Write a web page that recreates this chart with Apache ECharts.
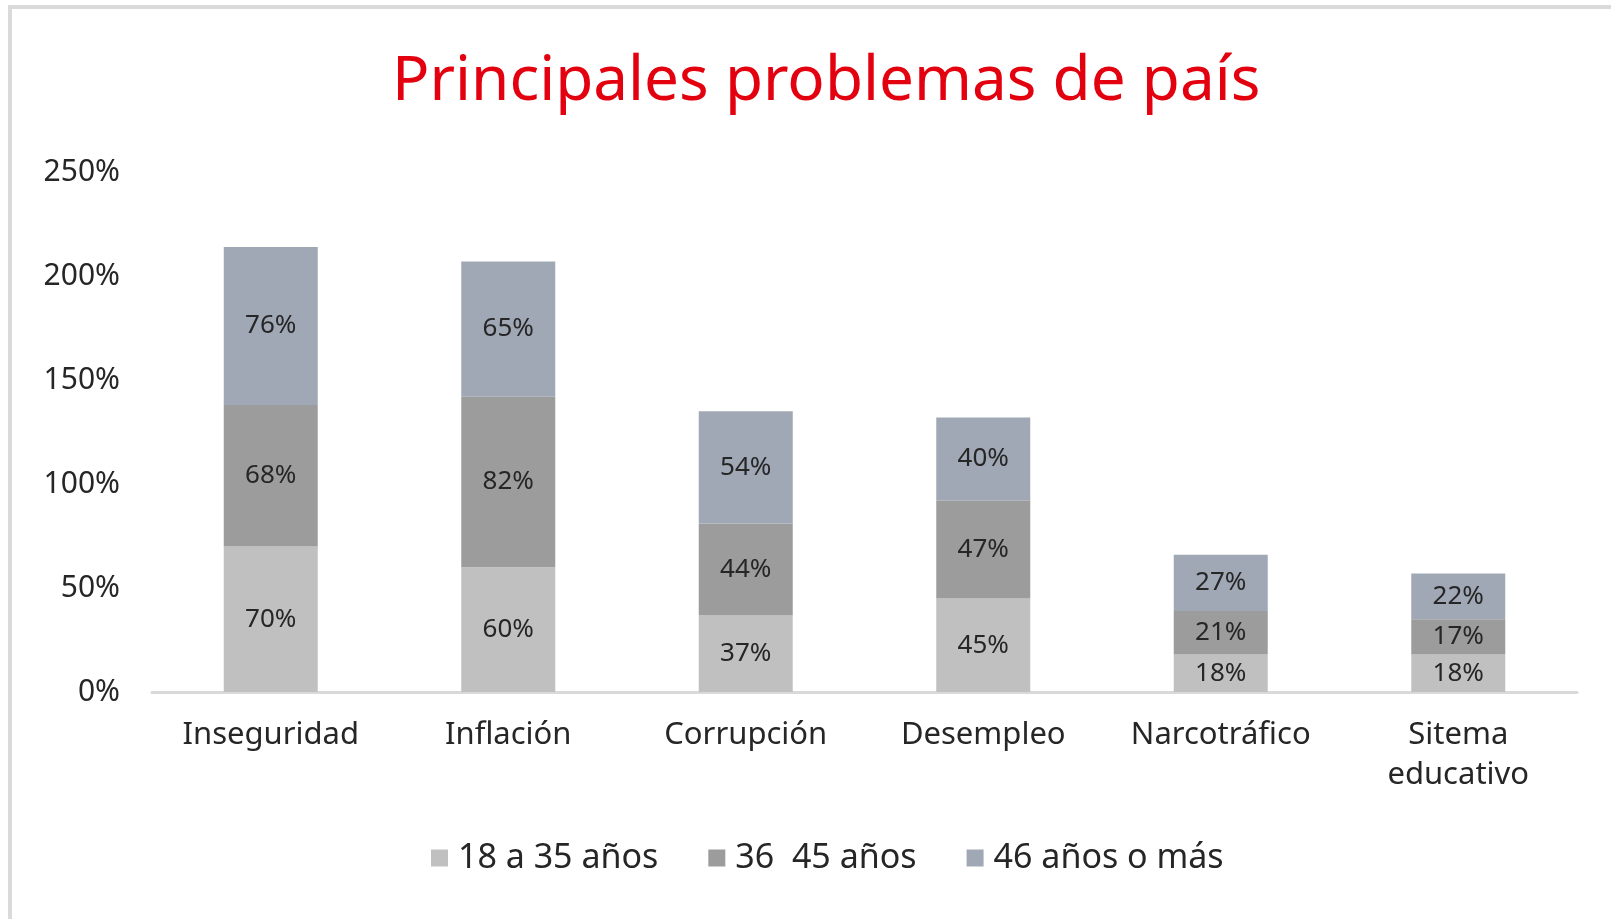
<!DOCTYPE html>
<html lang="es">

<head>
    <meta charset="utf-8" />
    <title>Principales problemas de país</title>
    <script src="https://cdn.jsdelivr.net/npm/echarts@6/dist/echarts.min.js"></script>
    <style>
        html, body { margin: 0; padding: 0; background: #fff; }
        #chart { width: 1611px; height: 919px; }
        #frame {
            position: absolute; left: 8px; top: 5px; right: 0; bottom: 0;
            border-left: 4px solid #dadada; border-top: 4px solid #dadada;
            pointer-events: none;
        }
    </style>
</head>

<body>
    <div id="chart"></div>
    <div id="frame"></div>
    <script type="text/javascript">
        // datos (porcentajes)
        var categorias = ['Inseguridad', 'Inflación', 'Corrupción', 'Desempleo', 'Narcotráfico', 'Sitema\neducativo'];
        var grupo18a35 = [70, 60, 37, 45, 18, 18];
        var grupo36a45 = [68, 82, 44, 47, 21, 17];
        var grupo46mas = [76, 65, 54, 40, 27, 22];
        var nombres = ['18 a 35 años', '36  45 años', '46 años o más'];
        var colores = ['#c0c0c0', '#9c9c9c', '#a0a7b5'];

        var fuente = 'Noto Sans';

        function serie(nombre, datos, color) {
            return {
                name: nombre,
                type: 'bar',
                stack: 'total',
                barWidth: 94,
                itemStyle: { color: color },
                label: {
                    show: true,
                    position: 'inside',
                    formatter: '{c}%',
                    fontFamily: fuente,
                    fontSize: 26,
                    color: '#262626'
                },
                emphasis: { disabled: true },
                data: datos
            };
        }

        var chart = echarts.init(document.getElementById('chart'));
        chart.setOption({
            animation: false,
            backgroundColor: '#fff',
            color: colores,
            title: {
                text: 'Principales problemas de país',
                left: 387,
                top: 46,
                textStyle: {
                    color: '#e3000f',
                    fontFamily: fuente,
                    fontWeight: 'normal',
                    fontSize: 62
                }
            },
            legend: {
                left: 426,
                top: 836,
                itemWidth: 17,
                itemHeight: 17,
                itemGap: 50,
                icon: 'rect',
                textStyle: {
                    fontFamily: fuente,
                    fontSize: 34,
                    color: '#262626',
                    padding: [0, 0, 0, 5]
                },
                data: nombres
            },
            grid: {
                left: 152,
                right: 34,
                top: 172,
                bottom: 227,
                containLabel: false
            },
            xAxis: {
                type: 'category',
                data: categorias,
                axisLine: { lineStyle: { color: '#d9d9d9', width: 3 } },
                axisTick: { show: false },
                axisLabel: {
                    fontFamily: fuente,
                    fontSize: 31,
                    color: '#262626',
                    margin: 23,
                    lineHeight: 40,
                    interval: 0
                }
            },
            yAxis: {
                type: 'value',
                min: 0,
                max: 250,
                interval: 50,
                axisLine: { show: false },
                axisTick: { show: false },
                splitLine: { show: false },
                axisLabel: {
                    formatter: '{value}%',
                    fontFamily: fuente,
                    fontSize: 30,
                    color: '#262626',
                    margin: 32
                }
            },
            series: [
                serie(nombres[0], grupo18a35, colores[0]),
                serie(nombres[1], grupo36a45, colores[1]),
                serie(nombres[2], grupo46mas, colores[2])
            ]
        });
    </script>
</body>

</html>
